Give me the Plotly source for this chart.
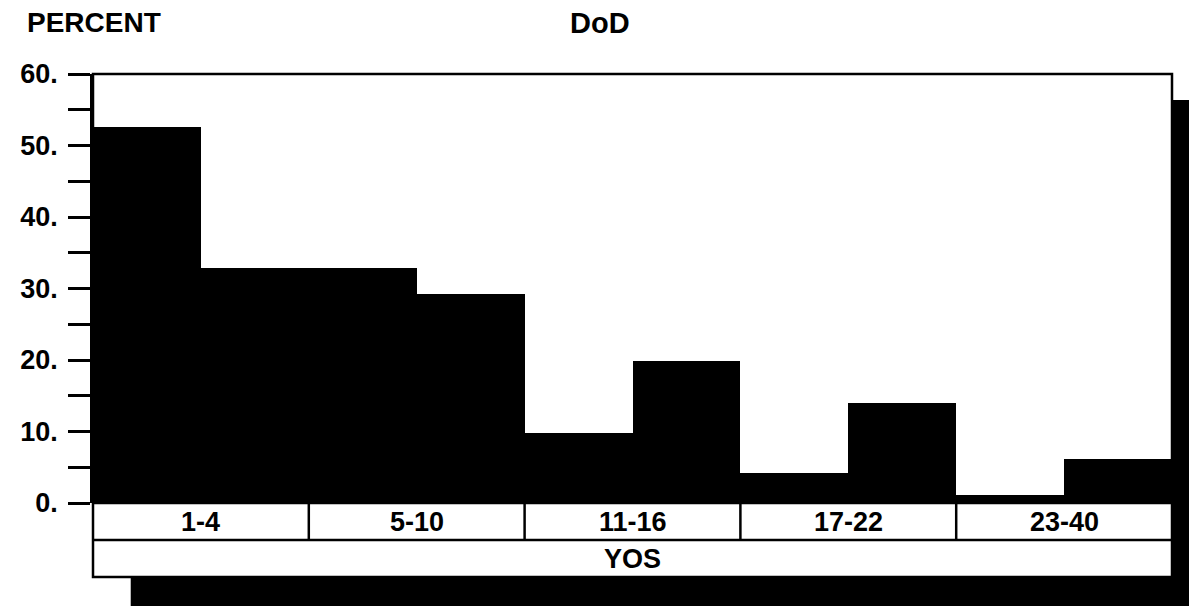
import plotly.graph_objects as go

# ---- data ----
groups = ["1-4", "5-10", "11-16", "17-22", "23-40"]
first_bar = [52.6, 32.9, 9.8, 4.2, 1.1]
second_bar = [32.8, 29.3, 19.8, 14.0, 6.2]
y_tickvals = [0, 10, 20, 30, 40, 50, 60]
y_ticktext = ["0.", "10.", "20.", "30.", "40.", "50.", "60."]
y_minorvals = [5, 15, 25, 35, 45, 55]
x_title = "YOS"
y_title = "PERCENT"
chart_title = "DoD"

FONT = "Liberation Sans, Arial, Helvetica, sans-serif"
OFF = 8  # page body margin in the browser
PAGE_W, PAGE_H = 1197, 606
W, H = PAGE_W - OFF, PAGE_H - OFF
# plot area in page pixels: x 85..1172, y 74..503
L = 85 - OFF
T = 74 - OFF
R = PAGE_W - 1172
B = PAGE_H - 503
PH = H - T - B
PW = W - L - R


def py(page_y):
    """page pixel y -> paper y"""
    return (503 - page_y) / PH


def pxx(page_x):
    """page pixel x -> paper x"""
    return (page_x - 85) / PW


fig = go.Figure()
fig.add_trace(go.Bar(x=groups, y=first_bar, marker=dict(color="black", line=dict(width=0)),
                     showlegend=False, hoverinfo="x+y"))
fig.add_trace(go.Bar(x=groups, y=second_bar, marker=dict(color="black", line=dict(width=0)),
                     showlegend=False, hoverinfo="x+y"))

row1_bottom = py(540)
row2_bottom = py(577)

shapes = []
# drop shadow (scan artefact) behind the chart frame
shapes.append(dict(type="rect", xref="paper", yref="paper", x0=pxx(123), x1=pxx(1260),
                   y0=py(100), y1=py(660), fillcolor="black", line=dict(width=0), layer="below"))
# white chart area above the shadow
shapes.append(dict(type="rect", xref="paper", yref="paper", x0=0, x1=1, y0=row2_bottom, y1=1,
                   fillcolor="white", line=dict(width=0), layer="below"))
# frame of plot + label band
shapes.append(dict(type="rect", xref="paper", yref="paper", x0=0, x1=1, y0=row2_bottom, y1=1,
                   line=dict(color="black", width=2.5), layer="above"))
shapes.append(dict(type="line", xref="paper", yref="paper", x0=0, x1=1, y0=0, y1=0,
                   line=dict(color="black", width=2.5)))
shapes.append(dict(type="line", xref="paper", yref="paper", x0=0, x1=1, y0=row1_bottom, y1=row1_bottom,
                   line=dict(color="black", width=2.5)))
for i in range(len(groups) - 1):
    shapes.append(dict(type="line", xref="x", yref="paper", x0=i + 0.5, x1=i + 0.5,
                       y0=0, y1=row1_bottom, line=dict(color="black", width=2.5)))

annotations = []
for i, g in enumerate(groups):
    annotations.append(dict(x=g, xref="x", y=(0 + row1_bottom) / 2, yref="paper", text=g,
                            showarrow=False, xanchor="center", yanchor="middle",
                            font=dict(family=FONT, size=27, color="black", weight="bold")))
annotations.append(dict(x=0.5, xref="paper", y=(row1_bottom + row2_bottom) / 2, yref="paper",
                        text=x_title, showarrow=False, xanchor="center", yanchor="middle",
                        font=dict(family=FONT, size=27, color="black", weight="bold")))
annotations.append(dict(x=pxx(16), xref="paper", y=py(23), yref="paper", text=y_title,
                        showarrow=False, xanchor="left", yanchor="middle",
                        font=dict(family=FONT, size=28, color="black", weight="bold")))
annotations.append(dict(x=pxx(596), xref="paper", y=py(23), yref="paper", text=chart_title,
                        showarrow=False, xanchor="center", yanchor="middle",
                        font=dict(family=FONT, size=29, color="black", weight="bold")))

fig.update_layout(
    width=W, height=H,
    margin=dict(l=L, r=R, t=T, b=B, pad=0),
    paper_bgcolor="white", plot_bgcolor="rgba(0,0,0,0)",
    barmode="group", bargap=0, bargroupgap=0,
    xaxis=dict(range=[-0.5, len(groups) - 0.5], showticklabels=False, ticks="",
               showgrid=False, zeroline=False, showline=False, fixedrange=True),
    yaxis=dict(range=[0, 60], tickvals=y_tickvals, ticktext=y_ticktext,
               ticks="outside", ticklen=22, tickwidth=2.5, tickcolor="black",
               ticklabelstandoff=5,
               minor=dict(tickvals=y_minorvals, ticks="outside", ticklen=22,
                          tickwidth=2.5, tickcolor="black", showgrid=False),
               showline=True, linecolor="black", linewidth=2.5,
               showgrid=False, zeroline=False,
               tickfont=dict(family=FONT, size=27, color="black", weight="bold")),
    shapes=shapes,
    annotations=annotations,
    showlegend=False,
)

fig.write_html("out.html")
